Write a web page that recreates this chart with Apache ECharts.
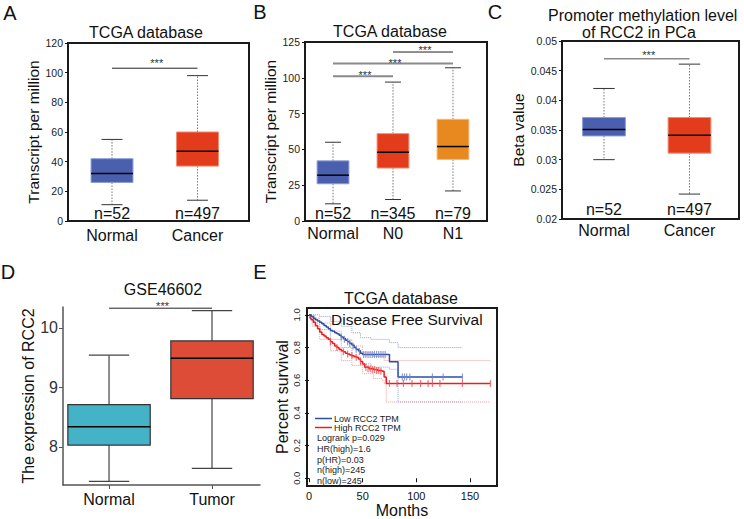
<!DOCTYPE html>
<html><head><meta charset="utf-8">
<script src="https://cdn.jsdelivr.net/npm/echarts@6/dist/echarts.min.js"></script>
<style>html,body{margin:0;padding:0;background:#fff}#c{width:744px;height:519px}</style>
</head><body><div id="c"></div>
<script>
const FONT = '"Liberation Sans", Arial, Helvetica, sans-serif';

// ---------- Panel A ----------
const catsA = ['Normal', 'Cancer'];
const nA = ['n=52', 'n=497'];
const boxA = [[11, 26, 32, 42, 55], [14, 37, 47, 60, 98]]; // low, q1, median, q3, high
const yTicksA = [0, 20, 40, 60, 80, 100, 120];
const sigA = [[1, 2, 103]];

// ---------- Panel B ----------
const catsB = ['Normal', 'N0', 'N1'];
const nB = ['n=52', 'n=345', 'n=79'];
const boxB = [[12, 26, 32, 42, 55], [15, 37, 48, 61, 97], [21, 43, 52, 71, 107]];
const yTicksB = [0, 25, 50, 75, 100, 125];
const sigB = [[1, 2, 101], [1, 3, 110], [2, 3, 118]];

// ---------- Panel C ----------
const catsC = ['Normal', 'Cancer'];
const nC = ['n=52', 'n=497'];
const boxC = [[0.0300, 0.0340, 0.0351, 0.0371, 0.0420], [0.0242, 0.0311, 0.0341, 0.0371, 0.0461]];
const yTicksC = [0.02, 0.025, 0.03, 0.035, 0.04, 0.045, 0.05];
const sigC = [[1, 2, 0.0470]];

// ---------- Panel D ----------
const catsD = ['Normal', 'Tumor'];
const boxD = [[7.42, 8.03, 8.34, 8.71, 9.54], [7.64, 8.81, 9.49, 9.78, 10.29]];
const yTicksD = [8, 9, 10];
const sigD = [[1, 2, 10.33]];

// ---------- Panel E (Kaplan-Meier) ----------
const xTicksE = [0, 50, 100, 150];
const yTicksE = [0, 0.2, 0.4, 0.6, 0.8, 1.0];
const kmLow = [[0,1.0],[2,0.99],[4,0.98],[6,0.97],[8,0.962],[10,0.955],[12,0.945],[14,0.935],[16,0.925],[18,0.915],[20,0.905],[22,0.9],[24,0.89],[26,0.885],[28,0.875],[30,0.865],[32,0.855],[34,0.845],[36,0.835],[38,0.825],[40,0.815],[42,0.8],[44,0.79],[46,0.78],[48,0.765],[50,0.758],[75,0.713],[83,0.62],[143,0.62]];
const kmHigh = [[0,1.0],[1,0.98],[2,0.97],[4,0.955],[6,0.935],[8,0.915],[10,0.895],[12,0.88],[14,0.87],[16,0.86],[18,0.85],[20,0.835],[22,0.825],[24,0.81],[26,0.8],[28,0.79],[30,0.78],[32,0.775],[34,0.765],[36,0.76],[38,0.755],[40,0.75],[42,0.745],[44,0.74],[46,0.73],[48,0.715],[50,0.7],[52,0.68],[56,0.67],[60,0.665],[64,0.66],[68,0.655],[70,0.62],[72,0.58],[169,0.58]];
const ciLowUpper = [[0,1.0],[10,0.99],[20,0.96],[30,0.93],[40,0.89],[48,0.86],[58,0.85],[75,0.83],[83,0.8],[143,0.8]];
const ciLowLower = [[0,1.0],[5,0.95],[10,0.91],[20,0.85],[30,0.8],[40,0.74],[48,0.7],[58,0.68],[75,0.667],[83,0.467],[143,0.467]];
const ciHighUpper = [[0,1.0],[5,0.98],[10,0.95],[20,0.9],[30,0.85],[40,0.81],[50,0.77],[60,0.745],[70,0.721],[169,0.721]];
const ciHighLower = [[0,1.0],[3,0.93],[10,0.85],[20,0.78],[30,0.72],[40,0.69],[50,0.64],[60,0.61],[68,0.6],[70,0.58],[72,0.467],[169,0.467]];
const censorLow = [[30,0.865],[33,0.85],[36,0.835],[38,0.825],[41,0.81],[44,0.79],[47,0.775],[51,0.758],[53,0.758],[55,0.758],[57,0.758],[59,0.758],[61,0.758],[63,0.758],[65,0.758],[67,0.758],[69,0.758],[71,0.758],[87,0.62],[89,0.62],[91,0.62],[94,0.62],[115,0.62],[125,0.62],[143,0.62]];
const censorHigh = [[20,0.835],[26,0.8],[32,0.775],[36,0.76],[40,0.75],[44,0.74],[48,0.715],[53,0.68],[55,0.67],[57,0.67],[59,0.665],[61,0.665],[63,0.66],[65,0.66],[67,0.655],[75,0.58],[82,0.58],[88,0.58],[96,0.58],[104,0.58],[111,0.58],[115,0.58],[122,0.58],[143,0.58],[169,0.58]];
const statsE = ['Logrank p=0.029', 'HR(high)=1.6', 'p(HR)=0.03', 'n(high)=245', 'n(low)=245'];

const chart = echarts.init(document.getElementById('c'), null, {renderer: 'svg', width: 744, height: 519});

function boxRender(cfg) {
  return function (params, api) {
    const x = api.value(0);
    const lo = api.value(1), q1 = api.value(2), md = api.value(3), q3 = api.value(4), hi = api.value(5);
    const bw = api.size([cfg.w, 0])[0];
    const cw = bw * cfg.cap;
    const pLo = api.coord([x, lo]), pQ1 = api.coord([x, q1]), pMd = api.coord([x, md]), pQ3 = api.coord([x, q3]), pHi = api.coord([x, hi]);
    const cx = pMd[0];
    const ws = {stroke: cfg.whisker, lineWidth: cfg.whiskerW || 1, lineDash: cfg.dash};
    const cs = {stroke: cfg.capColor, lineWidth: cfg.whiskerW || 1};
    const ch = [
      {type: 'line', shape: {x1: cx, y1: pQ3[1], x2: cx, y2: pHi[1]}, style: ws},
      {type: 'line', shape: {x1: cx, y1: pQ1[1], x2: cx, y2: pLo[1]}, style: ws},
      {type: 'line', shape: {x1: cx - cw / 2, y1: pHi[1], x2: cx + cw / 2, y2: pHi[1]}, style: cs},
      {type: 'line', shape: {x1: cx - cw / 2, y1: pLo[1], x2: cx + cw / 2, y2: pLo[1]}, style: cs},
      {type: 'rect', shape: {x: cx - bw / 2, y: pQ3[1], width: bw, height: pQ1[1] - pQ3[1]},
        style: {fill: cfg.colors[params.dataIndex], stroke: cfg.stroke || cfg.strokes[params.dataIndex], lineWidth: cfg.strokeW}},
      {type: 'line', shape: {x1: cx - bw / 2, y1: pMd[1], x2: cx + bw / 2, y2: pMd[1]}, style: {stroke: '#000', lineWidth: 1.5}}
    ];
    if (cfg.n) {
      const pb = api.coord([x, cfg.ymin]);
      ch.push({type: 'text', x: cx, y: pb[1] - cfg.nOff,
        style: {text: cfg.n[params.dataIndex], align: 'center', verticalAlign: 'middle', fontSize: 16, fontFamily: FONT, fill: '#111'}});
    }
    return {type: 'group', children: ch};
  };
}

function sigRender(colors, widths, off) {
  return function (params, api) {
    const y = api.value(2);
    const p1 = api.coord([api.value(0), y]), p2 = api.coord([api.value(1), y]);
    const i = params.dataIndex;
    return {type: 'group', children: [
      {type: 'line', shape: {x1: p1[0], y1: p1[1], x2: p2[0], y2: p2[1]}, style: {stroke: colors[i], lineWidth: widths[i]}},
      {type: 'text', x: (p1[0] + p2[0]) / 2 + 2, y: p1[1] - off[i],
        style: {text: '***', align: 'center', verticalAlign: 'middle', fontSize: 11, lineHeight: 11, fontFamily: FONT, fill: '#333'}}
    ]};
  };
}

function catXAxis(gi, cats, min, max, margin) {
  return {type: 'value', gridIndex: gi, min: min, max: max, splitLine: {show: false},
    axisLine: {show: false}, axisTick: {show: false},
    axisLabel: {customValues: cats.map((c, i) => i + 1), formatter: v => cats[Math.round(v) - 1],
      fontSize: 16, fontFamily: FONT, color: '#111', margin: margin}};
}
function valYAxis(gi, ticks, name, gap, fmt) {
  return {type: 'value', gridIndex: gi, min: ticks[0], max: ticks[ticks.length - 1], splitLine: {show: false},
    axisLine: {show: false},
    axisTick: {show: true, length: 3, customValues: ticks, lineStyle: {color: '#111'}},
    axisLabel: {customValues: ticks, fontSize: 10.5, fontFamily: FONT, color: '#222', margin: 5, formatter: fmt},
    name: name, nameLocation: 'middle', nameGap: gap, nameTextStyle: {fontSize: 15.5, fontFamily: FONT, color: '#111'}};
}
const border = {show: true, borderColor: '#1a1a1a', borderWidth: 2, backgroundColor: 'transparent'};

const boxCfgTCGA = {whisker: '#777', dash: [1.5, 1.5], capColor: '#333', strokeW: 1, cap: 0.5, nOff: 8};

const textEls = [
  ['A', 10, 13, 20, 'center'], ['B', 260, 12, 20, 'center'], ['C', 495, 12, 20, 'center'],
  ['D', 8, 272, 20, 'center'], ['E', 260, 272, 20, 'center'],
  ['TCGA database', 146, 32, 16, 'center'], ['TCGA database', 390, 31, 16, 'center'],
  ['Promoter methylation level', 548, 15, 16, 'left'], ['of RCC2 in PCa', 582, 32, 16, 'left'],
  ['GSE46602', 163, 289, 16, 'center'], ['TCGA database', 401, 298, 16, 'center'],
  ['Disease Free Survival', 331, 319, 15.5, 'left']
];
const graphic = textEls.map(t => ({type: 'text', x: t[1], y: t[2], z: 100,
  style: {text: t[0], fontSize: t[3], fontFamily: FONT, fill: '#111', align: t[4], verticalAlign: 'middle'}}));
graphic.push({type: 'text', x: 317, y: 433, z: 100,
  style: {text: statsE.join('\n'), fontSize: 9, lineHeight: 10.6, fontFamily: FONT, fill: '#222', align: 'left', verticalAlign: 'top'}});

const option = {
  animation: false,
  backgroundColor: '#fff',
  textStyle: {fontFamily: FONT},
  graphic: graphic,
  legend: {data: ['Low RCC2 TPM', 'High RCC2 TPM'], orient: 'vertical', left: 315, top: 414, padding: 0, itemGap: 0,
    icon: 'rect', itemWidth: 17, itemHeight: 1.5,
    textStyle: {fontSize: 9, fontFamily: FONT, color: '#222', lineHeight: 8, padding: [0, 0, 0, -3]}},
  grid: [
    Object.assign({left: 68, top: 43, width: 181, height: 178}, border),
    Object.assign({left: 305, top: 42, width: 182, height: 179}, border),
    Object.assign({left: 562, top: 41, width: 177, height: 178}, border),
    {left: 63, top: 307, width: 197, height: 178, show: false},
    Object.assign({left: 307, top: 308, width: 190, height: 180}, border)
  ],
  xAxis: [
    catXAxis(0, catsA, 0.4854, 2.602, 6),
    catXAxis(1, catsB, 0.533, 3.567, 4),
    catXAxis(2, catsC, 0.509, 2.579, 3),
    {type: 'value', gridIndex: 3, min: 0.553, max: 2.466, splitLine: {show: false},
      axisLine: {show: true, lineStyle: {color: '#555', width: 1.5}},
      axisTick: {show: true, length: 4, customValues: [1, 2], lineStyle: {color: '#555'}},
      axisLabel: {customValues: [1, 2], formatter: v => catsD[Math.round(v) - 1], fontSize: 16, fontFamily: FONT, color: '#111', margin: 6}},
    {type: 'value', gridIndex: 4, min: -1.86, max: 175.2, splitLine: {show: false},
      axisLine: {show: false},
      axisTick: {show: true, length: 4, customValues: xTicksE, lineStyle: {color: '#111'}},
      axisLabel: {customValues: xTicksE, fontSize: 11, fontFamily: FONT, color: '#111', margin: 4},
      name: 'Months', nameLocation: 'middle', nameGap: 14, nameTextStyle: {fontSize: 16, fontFamily: FONT, color: '#111'}}
  ],
  yAxis: [
    valYAxis(0, yTicksA, 'Transcript per million', 23),
    valYAxis(1, yTicksB, 'Transcript per million', 23),
    valYAxis(2, yTicksC, 'Beta value', 36, v => String(+v.toFixed(3))),
    {type: 'value', gridIndex: 3, min: 7.36, max: 10.35, splitLine: {show: false},
      axisLine: {show: true, lineStyle: {color: '#555', width: 1.5}},
      axisTick: {show: true, length: 4, customValues: yTicksD, lineStyle: {color: '#555'}},
      axisLabel: {customValues: yTicksD, fontSize: 16, fontFamily: FONT, color: '#333', margin: 5},
      name: 'The expression of RCC2', nameLocation: 'middle', nameGap: 22, nameTextStyle: {fontSize: 16, fontFamily: FONT, color: '#111'}},
    {type: 'value', gridIndex: 4, min: -0.048, max: 1.042, splitLine: {show: false},
      axisLine: {show: false},
      axisTick: {show: true, length: 4, customValues: yTicksE, lineStyle: {color: '#111'}},
      axisLabel: {customValues: yTicksE, rotate: 90, fontSize: 9.5, fontFamily: FONT, color: '#222', margin: 6, formatter: v => v.toFixed(1)},
      name: 'Percent survival', nameLocation: 'middle', nameGap: 12, nameTextStyle: {fontSize: 16, fontFamily: FONT, color: '#111'}}
  ],
  series: [
    {type: 'custom', xAxisIndex: 0, yAxisIndex: 0, data: boxA.map((s, i) => [i + 1].concat(s)), encode: {x: 0, y: [1, 2, 3, 4, 5]},
      renderItem: boxRender(Object.assign({w: 0.49, colors: ['#4a60ae', '#e33c1c'], strokes: ['#8a9bd4', '#f28a6e'], n: nA, ymin: 0}, boxCfgTCGA))},
    {type: 'custom', xAxisIndex: 0, yAxisIndex: 0, data: sigA, encode: {x: [0, 1], y: 2}, renderItem: sigRender(['#222'], [1], [5])},
    {type: 'custom', xAxisIndex: 1, yAxisIndex: 1, data: boxB.map((s, i) => [i + 1].concat(s)), encode: {x: 0, y: [1, 2, 3, 4, 5]},
      renderItem: boxRender(Object.assign({w: 0.53, colors: ['#4a60ae', '#e33c1c', '#e8891f'], strokes: ['#8a9bd4', '#f28a6e', '#f3b877'], n: nB, ymin: 0}, boxCfgTCGA))},
    {type: 'custom', xAxisIndex: 1, yAxisIndex: 1, data: sigB, encode: {x: [0, 1], y: 2}, renderItem: sigRender(['#8a8a8a', '#8a8a8a', '#222'], [2, 2, 1], [1, 0, 2])},
    {type: 'custom', xAxisIndex: 2, yAxisIndex: 2, data: boxC.map((s, i) => [i + 1].concat(s)), encode: {x: 0, y: [1, 2, 3, 4, 5]},
      renderItem: boxRender(Object.assign({w: 0.5, colors: ['#4a60ae', '#e33c1c'], strokes: ['#8a9bd4', '#f28a6e'], n: nC, ymin: 0.02}, boxCfgTCGA, {nOff: 10}))},
    {type: 'custom', xAxisIndex: 2, yAxisIndex: 2, data: sigC, encode: {x: [0, 1], y: 2}, renderItem: sigRender(['#8a8a8a'], [1.5], [4])},
    {type: 'custom', xAxisIndex: 3, yAxisIndex: 3, data: boxD.map((s, i) => [i + 1].concat(s)), encode: {x: 0, y: [1, 2, 3, 4, 5]},
      renderItem: boxRender({w: 0.8, cap: 0.49, colors: ['#44b3c8', '#dc4c36'], stroke: '#333', strokeW: 1.2, whisker: '#444', whiskerW: 1.2, dash: null, capColor: '#444'})},
    {type: 'custom', xAxisIndex: 3, yAxisIndex: 3, data: sigD, encode: {x: [0, 1], y: 2}, renderItem: sigRender(['#222'], [1], [2])},
    // KM confidence bands
    {type: 'line', name: 'ciLowUpper', xAxisIndex: 4, yAxisIndex: 4, data: ciLowUpper, step: 'end', showSymbol: false, silent: true,
      lineStyle: {type: 'dotted', width: 1, color: '#8fa2dc'}, z: 1},
    {type: 'line', name: 'ciLowLower', xAxisIndex: 4, yAxisIndex: 4, data: ciLowLower, step: 'end', showSymbol: false, silent: true,
      lineStyle: {type: 'dotted', width: 1, color: '#8fa2dc'}, z: 1},
    {type: 'line', name: 'ciHighUpper', xAxisIndex: 4, yAxisIndex: 4, data: ciHighUpper, step: 'end', showSymbol: false, silent: true,
      lineStyle: {type: 'dotted', width: 1, color: '#f39a9a'}, z: 1},
    {type: 'line', name: 'ciHighLower', xAxisIndex: 4, yAxisIndex: 4, data: ciHighLower, step: 'end', showSymbol: false, silent: true,
      lineStyle: {type: 'dotted', width: 1, color: '#f39a9a'}, z: 1},
    {type: 'line', name: 'Low RCC2 TPM', xAxisIndex: 4, yAxisIndex: 4, data: kmLow, step: 'end', showSymbol: false,
      itemStyle: {color: '#2e4fa6'}, lineStyle: {width: 1.5, color: '#2e4fa6'}, z: 3},
    {type: 'line', name: 'High RCC2 TPM', xAxisIndex: 4, yAxisIndex: 4, data: kmHigh, step: 'end', showSymbol: false,
      itemStyle: {color: '#ee1c1c'}, lineStyle: {width: 1.5, color: '#ee1c1c'}, z: 2},
    {type: 'scatter', name: 'censorLow', xAxisIndex: 4, yAxisIndex: 4, data: censorLow, symbol: 'rect', symbolSize: [1.2, 7],
      itemStyle: {color: '#6f86c8'}, z: 3},
    {type: 'scatter', name: 'censorHigh', xAxisIndex: 4, yAxisIndex: 4, data: censorHigh, symbol: 'rect', symbolSize: [1.2, 7],
      itemStyle: {color: '#f05050'}, z: 2}
  ]
};
chart.setOption(option);
</script>
</body></html>
